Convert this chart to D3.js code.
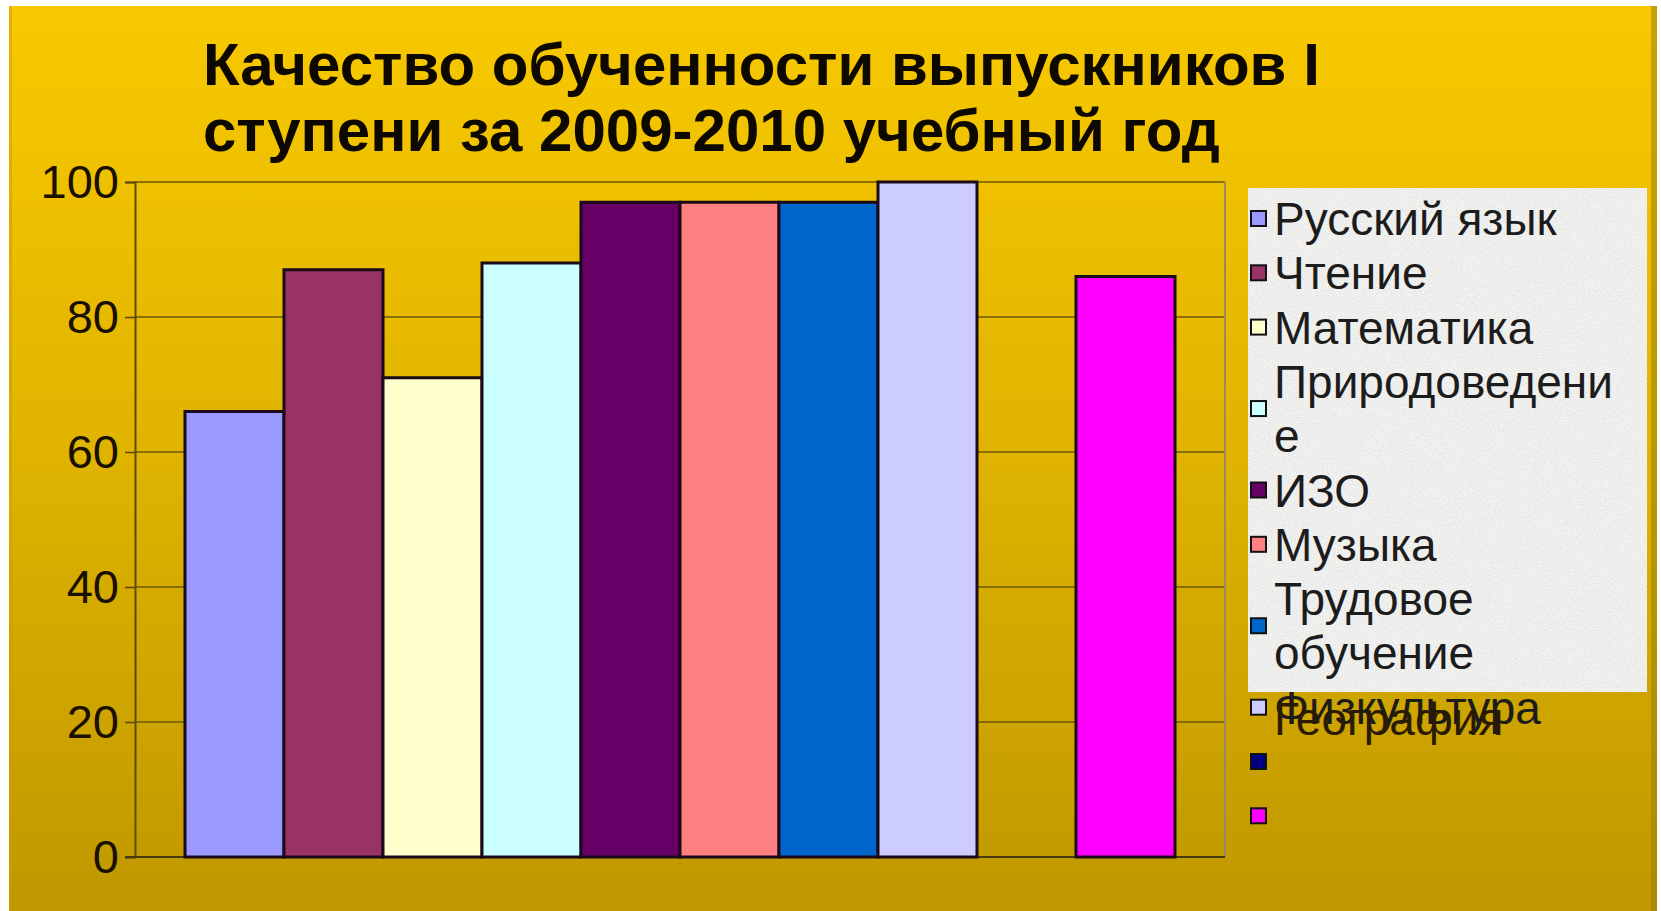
<!DOCTYPE html>
<html>
<head>
<meta charset="utf-8">
<script src="https://cdn.jsdelivr.net/npm/d3@7/dist/d3.min.js"></script>
<style>
  html, body { margin: 0; padding: 0; background: #ffffff; }
  svg { display: block; }
</style>
</head>
<body>
<svg id="chart" width="1661" height="911"></svg>
<script>
// ---- data ----
const titleLines = ["Качество обученности выпускников I", "ступени за 2009-2010 учебный год"];
const categories = [""];
const seriesNames = ["Русский язык", "Чтение", "Математика", "Природоведение", "ИЗО", "Музыка", "Трудовое обучение", "Физкультура", "География", ""];
const legendLines = [["Русский язык"], ["Чтение"], ["Математика"], ["Природоведени", "е"], ["ИЗО"], ["Музыка"], ["Трудовое", "обучение"], ["Физкультура"], ["География"], [""]];
const seriesValues = [66, 87, 71, 88, 97, 97, 97, 100, null, 86];
const seriesColors = ["#9999FF", "#993366", "#FFFFCC", "#CCFFFF", "#660066", "#FF8080", "#0066CC", "#CCCCFF", "#000080", "#FF00FF"];
const yTicks = [0, 20, 40, 60, 80, 100];

// ---- layout ----
const W = 1661, H = 911;
const plot = { left: 135, right: 1225, top: 182, bottom: 857 };
const svg = d3.select("#chart");
const defs = svg.append("defs");

const bg = defs.append("linearGradient").attr("id", "bgGrad").attr("x1", 0).attr("y1", 0).attr("x2", 0).attr("y2", 1);
bg.append("stop").attr("offset", "0%").attr("stop-color", "#F8C900");
bg.append("stop").attr("offset", "50%").attr("stop-color", "#DFB300");
bg.append("stop").attr("offset", "100%").attr("stop-color", "#BF9800");

const f = defs.append("filter").attr("id", "granite").attr("x", 0).attr("y", 0).attr("width", 1).attr("height", 1);
f.append("feTurbulence").attr("type", "fractalNoise").attr("baseFrequency", 0.85).attr("numOctaves", 3).attr("seed", 7).attr("result", "n");
f.append("feColorMatrix").attr("in", "n").attr("type", "matrix")
  .attr("values", "0 0 0 0 0.55  0 0 0 0 0.55  0 0 0 0 0.55  1.6 0 0 0 -0.62");

// page background
svg.append("rect").attr("x", 9).attr("y", 6).attr("width", 1648).attr("height", H - 6).attr("fill", "url(#bgGrad)");
svg.append("rect").attr("x", 9).attr("y", 6).attr("width", 3).attr("height", H - 6).attr("fill", "#C99C00").attr("opacity", 0.5);
svg.append("rect").attr("x", 1651).attr("y", 6).attr("width", 6).attr("height", H - 6).attr("fill", "#9A7A00").attr("opacity", 0.5);

// title
const title = svg.append("text")
  .attr("font-family", "'Liberation Sans', Arial, sans-serif")
  .attr("font-weight", "bold").attr("font-size", 60).attr("fill", "#0d0800");
title.selectAll("tspan").data(titleLines).join("tspan")
  .attr("x", 203).attr("y", (d, i) => 85 + i * 66).text(d => d);

// scales
const y = d3.scaleLinear().domain([0, 100]).range([plot.bottom, plot.top]);
const x0 = d3.scaleBand().domain(categories).range([plot.left, plot.right]).paddingOuter(0.0505).paddingInner(0).align(0.5);
const x1 = d3.scaleBand().domain(d3.range(seriesNames.length)).range([0, x0.bandwidth()]);

// gridlines
svg.append("g").selectAll("line").data(yTicks.filter(t => t > 0)).join("line")
  .attr("x1", plot.left).attr("x2", plot.right)
  .attr("y1", d => y(d)).attr("y2", d => y(d))
  .attr("stroke", "#6E5708").attr("stroke-width", 1.6);

// plot border right
svg.append("line").attr("x1", plot.right).attr("x2", plot.right).attr("y1", plot.top).attr("y2", plot.bottom)
  .attr("stroke", "#9A8A5A").attr("stroke-width", 2);

// y axis
const yAxis = svg.append("g").attr("transform", `translate(${plot.left},0)`)
  .call(d3.axisLeft(y).tickValues(yTicks).tickSize(10).tickPadding(6).tickFormat(d3.format("d")));
yAxis.select(".domain").attr("stroke", "#5E4A08").attr("stroke-width", 2);
yAxis.selectAll(".tick line").attr("stroke", "#5E4A08").attr("stroke-width", 1.6);
yAxis.selectAll(".tick text")
  .attr("font-family", "'Liberation Sans', Arial, sans-serif")
  .attr("font-size", 47).attr("fill", "#1a1000");

// x baseline
svg.append("line").attr("x1", plot.left - 10).attr("x2", plot.right).attr("y1", plot.bottom).attr("y2", plot.bottom)
  .attr("stroke", "#4a3a08").attr("stroke-width", 2);

// bars
const barData = categories.flatMap(c => seriesValues.map((v, i) => ({ c, i, v })));
svg.append("g").selectAll("rect").data(barData.filter(d => d.v != null)).join("rect")
  .attr("x", d => x0(d.c) + x1(d.i))
  .attr("y", d => y(d.v))
  .attr("width", x1.bandwidth())
  .attr("height", d => y(0) - y(d.v))
  .attr("fill", d => seriesColors[d.i])
  .attr("stroke", "#1a0a1a").attr("stroke-width", 3);

// legend
const lg = { x: 1248, y: 188, w: 399, h: 504, row0: 219, step: 54.3 };
svg.append("rect").attr("x", lg.x).attr("y", lg.y).attr("width", lg.w).attr("height", lg.h).attr("fill", "#F3F3F1");
svg.append("rect").attr("x", lg.x).attr("y", lg.y).attr("width", lg.w).attr("height", lg.h).attr("filter", "url(#granite)").attr("opacity", 0.55);

let row = 0;
const items = seriesNames.map((name, i) => {
  const lines = legendLines[i];
  const it = { i, lines, firstRow: row, centerRow: row + (lines.length - 1) / 2 };
  row += lines.length;
  return it;
});
// overflow: the 9th label is drawn over the 8th one (as in the original)
const overflowIndex = 8, overflowOnto = 7, overflowDy = 11;

const font = "'Liberation Sans', Arial, sans-serif";
const lgG = svg.append("g");
items.forEach(it => {
  const cy = lg.row0 + lg.step * it.centerRow;
  lgG.append("rect").attr("x", 1251).attr("y", cy - 8).attr("width", 15).attr("height", 15)
    .attr("fill", seriesColors[it.i]).attr("stroke", "#111").attr("stroke-width", 2);
  let baseRow = it.firstRow, dy = 0;
  if (it.i === overflowIndex) { baseRow = items[overflowOnto].firstRow; dy = overflowDy; }
  it.lines.forEach((ln, k) => {
    lgG.append("text").attr("x", 1274).attr("y", lg.row0 + lg.step * (baseRow + k) + 16 + dy)
      .attr("font-family", font).attr("font-size", 46).attr("fill", it.i === overflowIndex ? "#2a1a00" : "#1c1c1c")
      .text(ln);
  });
});
</script>
</body>
</html>
